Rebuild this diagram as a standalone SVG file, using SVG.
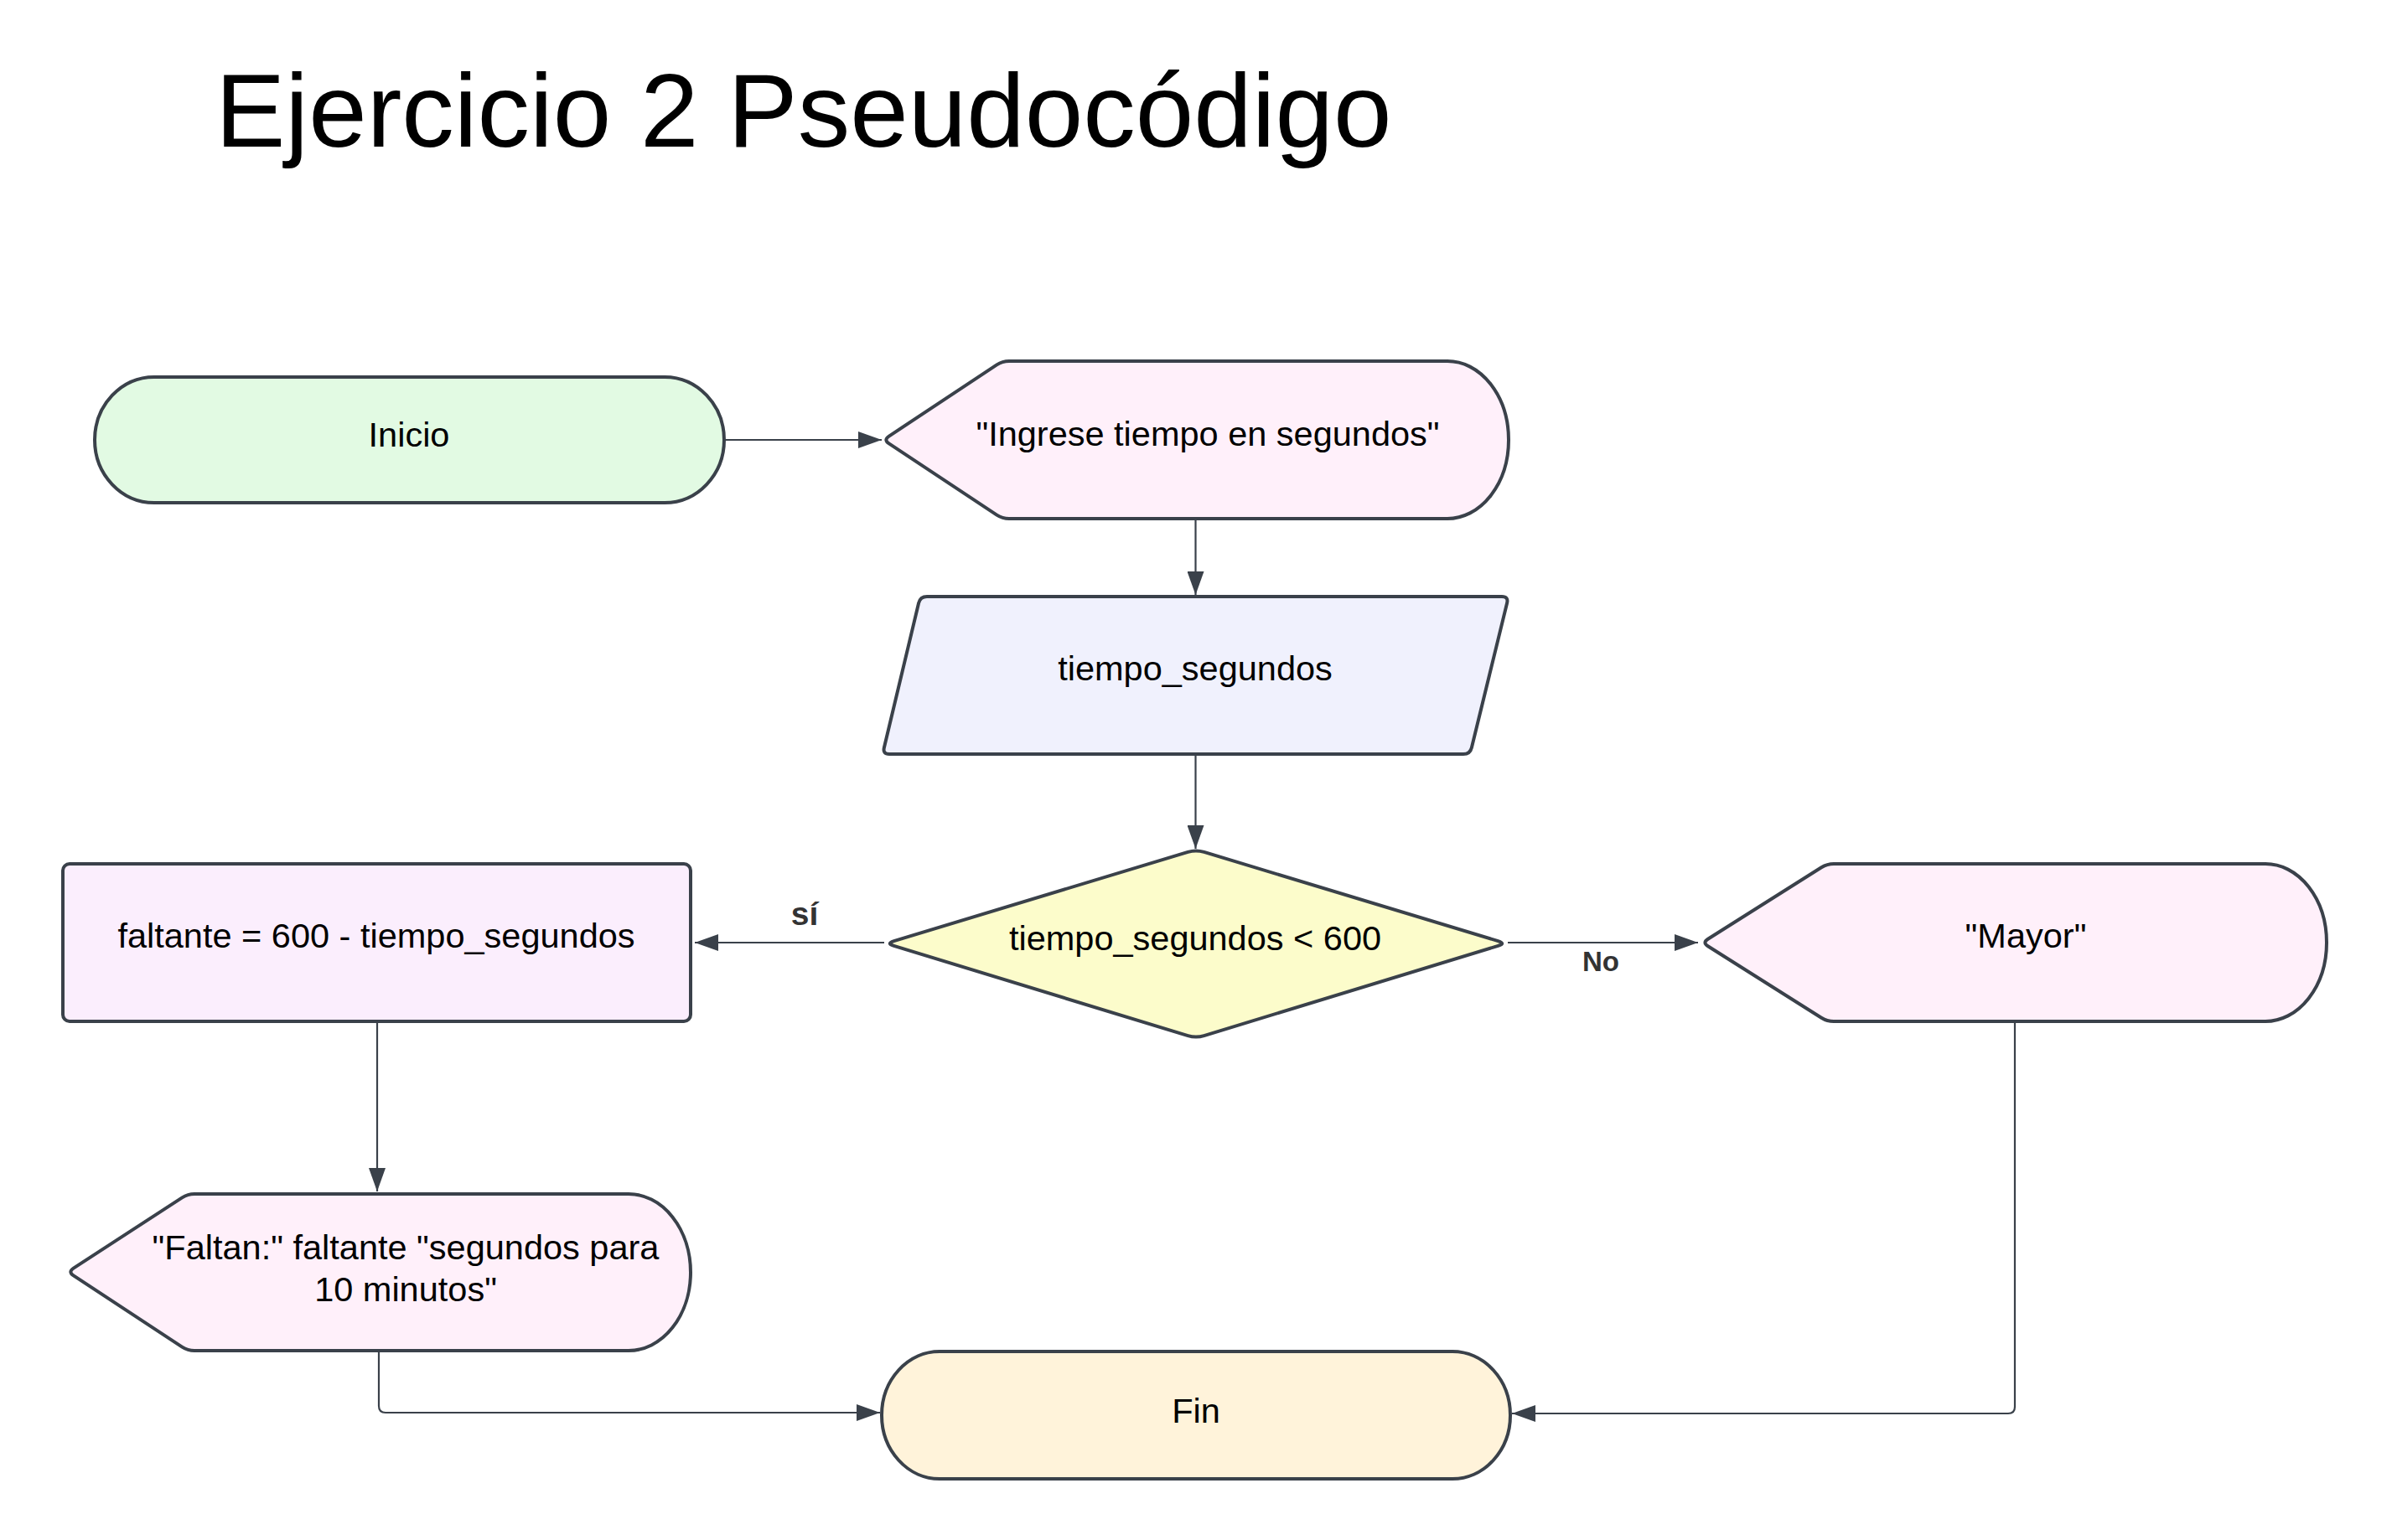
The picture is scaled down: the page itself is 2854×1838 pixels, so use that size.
<svg xmlns="http://www.w3.org/2000/svg" width="2854" height="1838" viewBox="0 0 2854 1838">
<defs>
<style>
.node{stroke:#3a414a;stroke-width:4;stroke-linejoin:round}
.t{font-family:"Liberation Sans",Arial,sans-serif;font-size:41.5px;fill:#000;text-anchor:middle}
.title{font-family:"Liberation Sans",Arial,sans-serif;font-size:125px;fill:#000}
.lbl{font-family:"Liberation Sans",Arial,sans-serif;font-weight:bold;fill:#333}
.c{fill:none;stroke:#3a414a;stroke-width:2.2}
</style>
<marker id="ah" viewBox="0 0 28 20" refX="28" refY="10" markerWidth="28" markerHeight="20" markerUnits="userSpaceOnUse" orient="auto">
<path d="M0,0 L28,10 L0,20 Z" fill="#3a414a"/>
</marker>
</defs>
<rect width="2854" height="1838" fill="#fff"/>
<text class="title" x="257" y="175">Ejercicio 2 Pseudocódigo</text>

<g id="connectors">
<path class="c" d="M865,525 H1052" marker-end="url(#ah)"/>
<path class="c" d="M1426.5,621 V710" marker-end="url(#ah)"/>
<path class="c" d="M1426.5,902 V1013" marker-end="url(#ah)"/>
<path class="c" d="M1055,1125 H829" marker-end="url(#ah)"/>
<path class="c" d="M1799,1125 H2026" marker-end="url(#ah)"/>
<path class="c" d="M450,1221 V1422" marker-end="url(#ah)"/>
<path class="c" d="M452,1614 V1678 Q452,1686 460,1686 H1050" marker-end="url(#ah)"/>
<path class="c" d="M2404,1221 V1679 Q2404,1687 2396,1687 H1804" marker-end="url(#ah)"/>
<text class="lbl" x="960" y="1104" font-size="39" text-anchor="middle">sí</text>
<text class="lbl" x="1888" y="1159" font-size="33">No</text>
</g>

<g id="inicio">
<rect class="node" x="113" y="450" width="751" height="150" rx="71" ry="75" fill="#e2fae3"/>
<text class="t" x="488" y="533">Inicio</text>
</g>

<g id="ingrese">
<path class="node" d="M1060.7,520.6 L1189.3,435.4 Q1196,431 1204,431 H1727 A73,94 0 0 1 1727,619 H1204 Q1196,619 1189.3,614.6 L1060.7,529.4 Q1054,525 1060.7,520.6 Z" fill="#fff0fa"/>
<text class="t" x="1441" y="532">"Ingrese tiempo en segundos"</text>
</g>

<g id="tiempo">
<path class="node" d="M1106,712 H1792 Q1800,712 1798.1,719.8 L1755.9,892.2 Q1754,900 1746,900 H1061 Q1053,900 1054.9,892.2 L1096.1,719.8 Q1098,712 1106,712 Z" fill="#f0f1fd"/>
<text class="t" x="1426" y="812">tiempo_segundos</text>
</g>

<g id="decision">
<path class="node" d="M1436.6,1016.9 L1787.4,1123.1 Q1797,1126 1787.4,1128.9 L1436.6,1236.1 Q1427,1239 1417.4,1236.1 L1066.6,1128.9 Q1057,1126 1066.6,1123.1 L1417.4,1016.9 Q1427,1014 1436.6,1016.9 Z" fill="#fcfccb"/>
<text class="t" x="1426" y="1134">tiempo_segundos &lt; 600</text>
</g>

<g id="faltante">
<rect class="node" x="75" y="1031" width="749" height="188" rx="8" fill="#fbeefd"/>
<text class="t" x="449" y="1131">faltante = 600 - tiempo_segundos</text>
</g>

<g id="mayor">
<path class="node" d="M2037.8,1120.7 L2173.2,1035.3 Q2180,1031 2188,1031 H2703 A73,94 0 0 1 2703,1219 H2188 Q2180,1219 2173.2,1214.7 L2037.8,1129.3 Q2031,1125 2037.8,1120.7 Z" fill="#fff0fa"/>
<text class="t" x="2417" y="1131">"Mayor"</text>
</g>

<g id="faltan">
<path class="node" d="M87.7,1513.6 L217.3,1429.4 Q224,1425 232,1425 H750 A74,93.5 0 0 1 750,1612 H232 Q224,1612 217.3,1607.6 L87.7,1522.4 Q81,1518 87.7,1513.6 Z" fill="#fff0fa"/>
<text class="t" x="484" y="1503">"Faltan:" faltante "segundos para</text>
<text class="t" x="484" y="1553">10 minutos"</text>
</g>

<g id="fin">
<rect class="node" x="1052" y="1613" width="750" height="152" rx="69" ry="76" fill="#fff3da"/>
<text class="t" x="1427" y="1698">Fin</text>
</g>
</svg>
